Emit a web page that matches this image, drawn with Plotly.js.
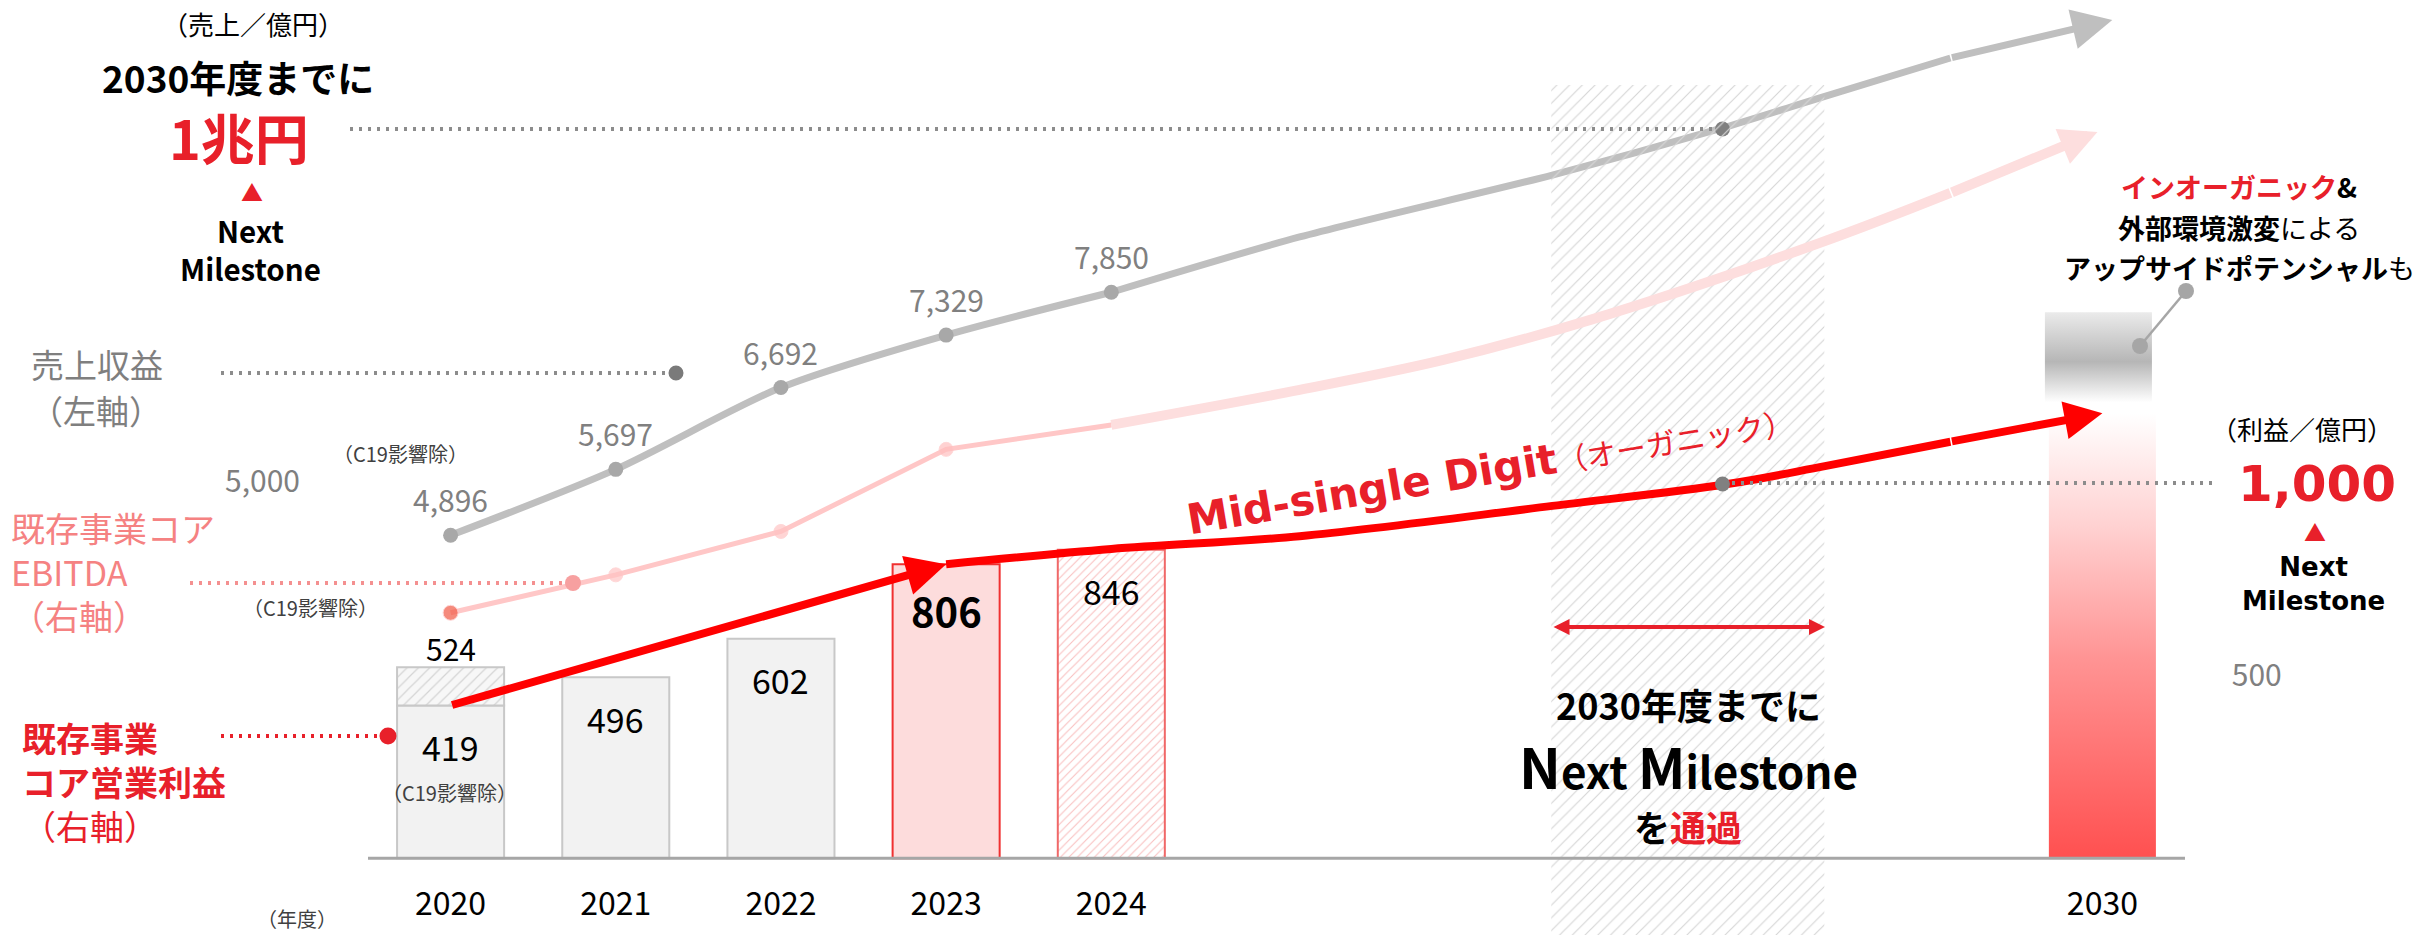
<!DOCTYPE html>
<html><head><meta charset="utf-8">
<script src="https://cdn.plot.ly/plotly-3.0.1.min.js"></script>
<style>body{margin:0;background:#fff}#chart{width:2430px;height:935px}</style>
</head><body><div id="chart"></div>
<script>
// ================= DATA =================
const years = [2020, 2021, 2022, 2023, 2024];
const yearTicks = [2020, 2021, 2022, 2023, 2024, 2030];
const revenue = [4896, 5697, 6692, 7329, 7850];          // 売上収益 (左軸, 億円)
const ebitda = [673, 777, 896, 1121, 1188];              // 既存事業コアEBITDA (右軸)
const opProfit = [419, 496, 602, 806, 846];              // 既存事業コア営業利益 (右軸)
const c19Year = [2020];
const c19Profit = [524];                                 // 2020 営業利益 (C19影響除)

// projected paths
const revenueTrendYears = [2024, 2025.14, 2026.67, 2027.68, 2028.29, 2029.08, 2030.06];
const revenueTrend      = [7850, 8522, 9275, 9835, 10212, 10698, 11160];
const ebitdaTrendYears  = [2024, 2025.14, 2026.01, 2026.9, 2028.29, 2029.08, 2029.97];
const ebitdaTrend       = [1188, 1284, 1366, 1476, 1687, 1824, 1991];
const profitTrendYears  = [2023, 2024, 2025.14, 2026.67, 2027.73, 2028.32, 2029.08, 2030.0];
const profitTrend       = [806, 848, 883, 966, 1026, 1075, 1142, 1220];

const milestoneYear = [2027.7];
const revenueMilestone = [9835];   // 1兆円 point on the revenue path
const profitMilestone = [1026];    // 1,000 point on the profit path

const targetYear = [2030];
const target2030 = [1220];         // top of the 2030 gradient column (右軸)
const upsideLow = [1250], upsideHigh = [1497];   // grey upside band above it

// ================= LAYOUT CALIBRATION =================
const W = 2430, H = 935;
const X0PX = 368, XY0 = 2019.5, PXY = 165.18;
const REV0 = 938, REVK = 0.08226;
const PR0 = 858.3, PRK = 0.3648;
const xRange = [XY0 - X0PX / PXY, XY0 + (W - X0PX) / PXY];
const yRange = [(REV0 - H) / REVK, REV0 / REVK];
const y2Range = [(PR0 - H) / PRK, PR0 / PRK];
const BAR_W = 0.648;
const FONT = '"Noto Sans CJK JP", "Noto Sans", sans-serif';
const VERD = '"DejaVu Sans", "Noto Sans CJK JP", sans-serif';
const RED = '#e8202a', GRAY = '#7f7f7f', PINK = '#f58282';
const fmt = v => v.toLocaleString('en-US');
const px = v => v / W, py = v => 1 - v / H;

// ================= TRACES =================
const traces = [];

// hatched "milestone period" band
const bandTop = (PR0 - 85) / PRK, bandBottom = y2Range[0];
traces.push({type: 'bar', x: [2027.49], base: [bandBottom], y: [bandTop - bandBottom], width: [1.653],
  yaxis: 'y2', hoverinfo: 'skip',
  marker: {color: 'rgba(0,0,0,0)', line: {width: 0},
    pattern: {shape: '/', fgcolor: '#d6d6d6', bgcolor: 'rgba(0,0,0,0)', size: 9, solidity: 0.13}}});

// operating profit bars: actuals 2020-2023
const nSolid = 4;
traces.push({type: 'bar', x: years.slice(0, nSolid), y: opProfit.slice(0, nSolid), width: BAR_W, yaxis: 'y2',
  hoverinfo: 'skip',
  marker: {color: ['#f2f2f2', '#f2f2f2', '#f2f2f2', '#fddcdc'],
    line: {color: ['#c8c8c8', '#c8c8c8', '#c8c8c8', '#f03030'], width: 2}}});
// 2024 (hatched)
traces.push({type: 'bar', x: years.slice(nSolid), y: opProfit.slice(nSolid), width: BAR_W, yaxis: 'y2',
  hoverinfo: 'skip',
  marker: {color: '#ffffff', line: {color: '#f06868', width: 2},
    pattern: {shape: '/', fgcolor: '#f9c0c0', bgcolor: '#ffffff', size: 6, solidity: 0.18}}});

// 2020 C19-adjusted add-on
traces.push({type: 'bar', x: c19Year, base: [opProfit[0]], y: c19Profit.map(v => v - opProfit[0]), width: BAR_W,
  yaxis: 'y2', hoverinfo: 'skip',
  marker: {color: '#f7f7f7', line: {color: '#c8c8c8', width: 2},
    pattern: {shape: '/', fgcolor: '#d4d4d4', bgcolor: '#f7f7f7', size: 8, solidity: 0.15}}});

// revenue (left axis)
traces.push({type: 'scatter', mode: 'lines', x: revenueTrendYears.slice(0, -1), y: revenueTrend.slice(0, -1),
  yaxis: 'y', line: {color: '#bfbfbf', width: 7, shape: 'spline', smoothing: 0.8}, hoverinfo: 'skip'});
traces.push({type: 'scatter', mode: 'lines+markers', x: years, y: revenue, yaxis: 'y',
  line: {color: '#bfbfbf', width: 7, shape: 'spline', smoothing: 0.8},
  marker: {size: 15, color: '#a8a8a8'}, hoverinfo: 'skip'});
traces.push({type: 'scatter', mode: 'markers', x: milestoneYear, y: revenueMilestone, yaxis: 'y',
  marker: {size: 15, color: '#7f7f7f'}, hoverinfo: 'skip'});

// 2030 gradient column + grey upside band
const cx = targetYear[0], hw = BAR_W / 2;
traces.push({type: 'scatter', mode: 'lines', yaxis: 'y2', hoverinfo: 'skip',
  x: [cx - hw, cx + hw, cx + hw, cx - hw, cx - hw], y: [0, 0, target2030[0], target2030[0], 0],
  fill: 'toself', line: {width: 0},
  fillgradient: {type: 'vertical', colorscale: [[0, '#ff5050'], [0.45, '#ff9494'], [0.75, '#ffd2d2'], [1, '#ffffff']]}});
traces.push({type: 'scatter', mode: 'lines', yaxis: 'y2', hoverinfo: 'skip',
  x: [cx - hw - 0.024, cx + hw - 0.024, cx + hw - 0.024, cx - hw - 0.024, cx - hw - 0.024],
  y: [upsideLow[0], upsideLow[0], upsideHigh[0], upsideHigh[0], upsideLow[0]],
  fill: 'toself', line: {width: 0},
  fillgradient: {type: 'vertical', colorscale: [[0, '#ffffff'], [0.45, '#b6b6b6'], [1, '#ebebeb']]}});

// EBITDA (right axis)
traces.push({type: 'scatter', mode: 'lines', x: ebitdaTrendYears.slice(0, -1), y: ebitdaTrend.slice(0, -1),
  yaxis: 'y2', line: {color: '#fddede', width: 10, shape: 'spline', smoothing: 1}, hoverinfo: 'skip'});
traces.push({type: 'scatter', mode: 'lines+markers', x: years, y: ebitda, yaxis: 'y2',
  line: {color: '#ffc7c7', width: 5},
  marker: {size: [15, 14, 14, 14, 0], color: ['#f25a46', '#ffc4c4', '#ffc4c4', '#ffbfbf', '#ffc7c7']},
  hoverinfo: 'skip'});

// operating profit trend (right axis)
traces.push({type: 'scatter', mode: 'lines', x: profitTrendYears.slice(0, -1), y: profitTrend.slice(0, -1),
  yaxis: 'y2', line: {color: '#ff0000', width: 8, shape: 'spline', smoothing: 1}, hoverinfo: 'skip'});
traces.push({type: 'scatter', mode: 'markers', x: milestoneYear, y: profitMilestone, yaxis: 'y2',
  marker: {size: 15, color: '#808080'}, hoverinfo: 'skip'});

// ================= ANNOTATIONS =================
const ann = [];
function T(x, y, text, size, color, extra) {
  ann.push(Object.assign({xref: 'paper', yref: 'paper', x: px(x), y: py(y), text, showarrow: false,
    xanchor: 'center', yanchor: 'middle', font: {size, color: color || '#000', family: FONT}}, extra || {}));
}
function arrowEnd(xs, ys, yref, color, width, size) {
  const n = xs.length;
  ann.push({xref: 'x', yref, axref: 'x', ayref: yref, x: xs[n - 1], y: ys[n - 1], ax: xs[n - 2], ay: ys[n - 2],
    text: '', showarrow: true, arrowhead: 2, arrowsize: size, arrowwidth: width, arrowcolor: color});
}
arrowEnd(revenueTrendYears, revenueTrend, 'y', '#bfbfbf', 7, 1.15);
arrowEnd(ebitdaTrendYears, ebitdaTrend, 'y2', '#fddede', 10, 0.75);
arrowEnd(profitTrendYears, profitTrend, 'y2', '#ff0000', 8, 0.95);
arrowEnd([years[0], years[3]], [opProfit[0], opProfit[3]], 'y2', '#ff0000', 8, 1.0);

// data labels
revenue.forEach((v, i) => ann.push({xref: 'x', yref: 'y', x: years[i], y: v, yshift: 36, text: fmt(v),
  showarrow: false, font: {size: 30, color: '#808080', family: FONT}}));
opProfit.forEach((v, i) => ann.push({xref: 'x', yref: 'y2', x: years[i], y: v, yshift: i === 3 ? -46 : -41,
  text: i === 3 ? '<b>' + fmt(v) + '</b>' : fmt(v), showarrow: false,
  font: {size: i === 3 ? 40 : 34, color: '#000', family: FONT}}));
ann.push({xref: 'x', yref: 'y2', x: c19Year[0], y: c19Profit[0], yshift: 19, text: fmt(c19Profit[0]),
  showarrow: false, font: {size: 30, color: '#000', family: FONT}});

// text blocks
T(253, 23, '（売上／億円）', 26);
T(238, 77, '<b>2030年度までに</b>', 37);
T(239, 137, '<b>1兆円</b>', 54, RED);
T(252, 191, '▲', 22, RED);
T(250, 249, '<b>Next<br>Milestone</b>', 29.5);
T(97, 364, '売上収益', 33, GRAY);
T(96, 410, '（左軸）', 33, GRAY);
T(262, 479, '5,000', 30, GRAY);
T(400, 453, '（C19影響除）', 20, '#404040');
T(9, 571, '既存事業コア<br>EBITDA<br>（右軸）', 34, PINK, {xanchor: 'left', align: 'left'});
T(310, 607, '（C19影響除）', 20, '#404040');
T(449, 792, '（C19影響除）', 20, '#404040');
T(20, 781, '<b>既存事業<br>コア営業利益</b><br>（右軸）', 34, RED, {xanchor: 'left', align: 'left'});
T(297, 918, '（年度）', 20, '#404040');
T(1490, 469, '<b>Mid-single Digit</b><span style="font-size:30px;font-family:Noto Sans CJK JP">（オーガニック）</span>',
  42, RED, {textangle: -9.5, font: {size: 42, color: RED, family: VERD}});
T(1688, 704, '<b>2030年度までに</b>', 36);
T(1688, 764, '<b><span style="font-size:56px">N</span>ext <span style="font-size:56px">M</span>ilestone</b>', 44);
T(1688, 826, '<b>を<span style="color:' + RED + '">通過</span></b>', 36);
T(2239, 187, '<b><span style="color:' + RED + '">インオーガニック</span>&amp;</b>', 27);
T(2239, 227, '<b>外部環境激変</b>による', 27);
T(2239, 267, '<b>アップサイドポテンシャル</b>も', 27);
T(2302, 428, '（利益／億円）', 26);
T(2317, 484, '<b>1,000</b>', 50, RED, {font: {size: 50, color: RED, family: VERD}});
T(2315, 531, '▲', 22, RED);
T(2313, 584, '<b>Next<br>Milestone</b>', 26, '#000', {font: {size: 26, color: '#000', family: VERD}});

// red double arrow over the band
ann.push({xref: 'paper', yref: 'paper', x: px(1825), y: py(627), ax: -273, ay: 0, text: '', showarrow: true,
  arrowside: 'end+start', arrowhead: 2, startarrowhead: 2, arrowsize: 0.8, startarrowsize: 0.8,
  arrowwidth: 4, arrowcolor: RED});

// ================= SHAPES =================
const shapes = [];
function dotted(x0, x1, y, color) {
  shapes.push({type: 'line', xref: 'paper', yref: 'paper', x0: px(x0), x1: px(x1), y0: py(y), y1: py(y),
    line: {color, width: 4, dash: '3px,6px'}});
}
function dot(x, y, r, color) {
  shapes.push({type: 'circle', xref: 'paper', yref: 'paper', x0: px(x - r), x1: px(x + r), y0: py(y + r), y1: py(y - r),
    fillcolor: color, line: {width: 0}});
}
shapes.push({type: 'line', xref: 'x', yref: 'y2', x0: XY0, x1: 2030.5, y0: 0, y1: 0, line: {color: '#a6a6a6', width: 3}});
dotted(350, 1712, 129, '#8c8c8c');
dotted(221, 668, 373, '#8c8c8c');
dot(676, 373, 7.5, '#7a7a7a');
dotted(190, 565, 583, '#f49090');
dot(573, 583, 8, '#f7a0a0');
dotted(221, 378, 736, RED);
dot(388, 736, 8.5, RED);
dotted(1732, 2218, 483, '#8c8c8c');
shapes.push({type: 'line', xref: 'paper', yref: 'paper', x0: px(2186), y0: py(291), x1: px(2140), y1: py(346),
  line: {color: '#a6a6a6', width: 2.5}});
dot(2186, 291, 8, '#a6a6a6');
dot(2140, 346, 8, '#a6a6a6');

// ================= LAYOUT =================
const layout = {
  width: W, height: H, margin: {l: 0, r: 0, t: 0, b: 0},
  paper_bgcolor: '#ffffff', plot_bgcolor: 'rgba(0,0,0,0)',
  showlegend: false, barmode: 'overlay', hovermode: false,
  font: {family: FONT, color: '#000'},
  xaxis: {range: xRange, anchor: 'free', position: 1 - PR0 / H, tickvals: yearTicks,
    ticktext: yearTicks.map(String), showgrid: false, zeroline: false, showline: false, ticks: '',
    tickfont: {size: 32, color: '#000'}, ticklabelstandoff: 24, fixedrange: true},
  yaxis: {range: yRange, visible: false, fixedrange: true},
  yaxis2: {range: y2Range, overlaying: 'y', side: 'right', anchor: 'free', position: 0.918,
    tickvals: [500], ticktext: ['500'], showgrid: false, zeroline: false, showline: false, ticks: '',
    tickfont: {size: 30, color: '#808080'}, fixedrange: true},
  annotations: ann, shapes: shapes
};

Plotly.newPlot('chart', traces, layout, {staticPlot: true, displayModeBar: false});
</script>
</body></html>
